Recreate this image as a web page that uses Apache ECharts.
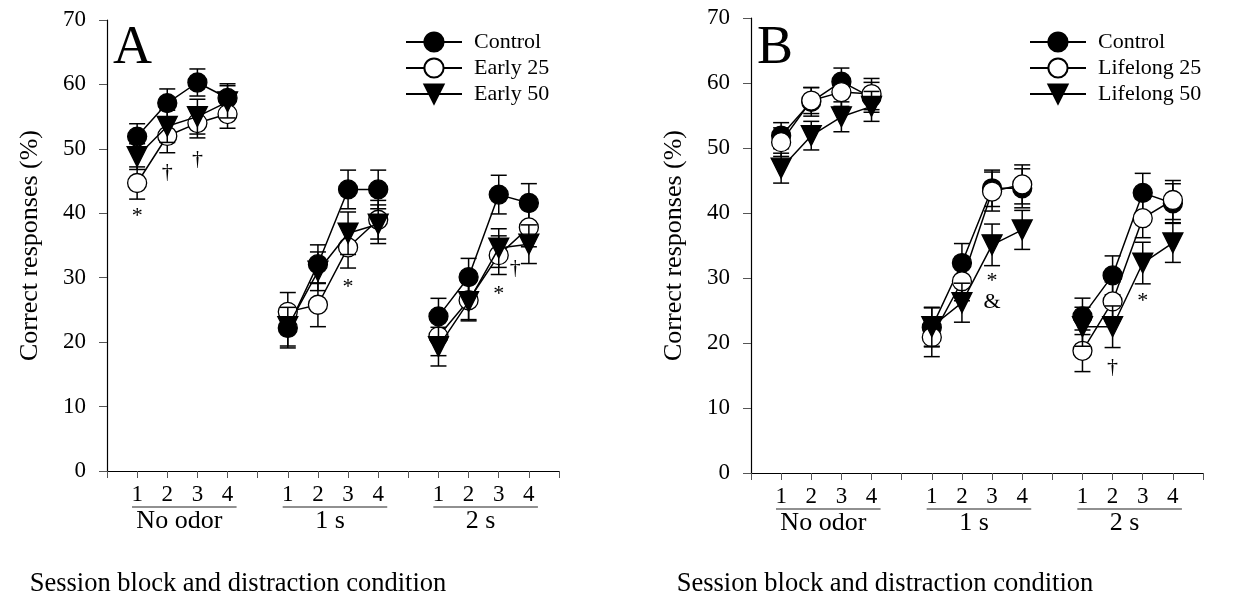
<!DOCTYPE html>
<html>
<head>
<meta charset="utf-8">
<script src="https://cdn.jsdelivr.net/npm/echarts@6/dist/echarts.min.js"></script>
<style>
  html, body { margin: 0; padding: 0; background: #fff; }
  #main { width: 1251px; height: 605px; }
</style>
</head>
<body>
<div id="main"></div>
<script>
// session blocks inside each distraction condition
var groups = ['No odor', '1 s', '2 s'];
var blocks = [1, 2, 3, 4];
var yTicks = [0, 10, 20, 30, 40, 50, 60, 70];

// panel A
var namesA = ['Control', 'Early 25', 'Early 50'];
var ctrlA = [51.9, 57.1, 60.3, 57.9, 22.2, 32.1, 43.7, 43.7, 24.0, 30.1, 42.9, 41.6];
var ctrlAErr = [2.0, 2.2, 2.1, 2.2, 3.1, 3.0, 3.0, 3.0, 2.8, 2.9, 3.0, 3.0];
var e25A = [44.7, 52.0, 54.0, 55.4, 24.7, 25.8, 34.7, 39.0, 20.9, 26.5, 33.5, 37.8];
var e25AErr = [2.5, 2.6, 2.3, 2.2, 3.0, 3.4, 3.2, 3.0, 3.0, 3.0, 3.0, 3.0];
var e50A = [48.8, 53.5, 55.0, 57.3, 22.4, 31.0, 36.9, 38.3, 19.3, 26.3, 34.6, 35.2];
var e50AErr = [2.0, 2.5, 2.7, 2.5, 3.0, 3.0, 3.3, 3.0, 3.0, 3.0, 3.0, 3.0];
var marksA = [[1, 39.6, '*'], [2, 46.3, '†'], [3, 48.4, '†'], [8, 28.5, '*'], [13, 27.5, '*'], [13.55, 31.5, '†']];

// panel B
var namesB = ['Control', 'Lifelong 25', 'Lifelong 50'];
var ctrlB = [51.9, 57.1, 60.2, 57.8, 22.4, 32.3, 43.8, 43.8, 24.1, 30.4, 43.1, 41.5];
var ctrlBErr = [2.0, 2.2, 2.1, 2.3, 3.0, 3.0, 2.8, 3.0, 2.8, 3.0, 3.0, 3.0];
var l25B = [50.9, 57.3, 58.6, 58.3, 20.9, 29.5, 43.3, 44.4, 18.8, 26.4, 39.2, 42.0];
var l25BErr = [2.2, 2.0, 2.2, 2.4, 3.0, 3.0, 3.0, 3.0, 3.2, 3.0, 3.0, 3.0];
var l50B = [46.9, 51.9, 54.8, 56.4, 22.5, 26.2, 35.1, 37.4, 22.5, 22.5, 32.3, 35.4];
var l50BErr = [2.3, 2.2, 2.3, 2.3, 3.0, 3.0, 3.2, 3.0, 3.0, 3.2, 3.2, 3.0];
var marksB = [[8, 29.5, '*'], [8, 26.3, '&'], [12, 16.3, '†'], [13, 26.5, '*']];

var serif = '"Liberation Serif", "Times New Roman", serif';

// x position of each point: 4 blocks per group, one empty slot between groups
var xPos = [];
groups.forEach(function (g, gi) {
  blocks.forEach(function (b) { xPos.push(gi * 5 + b); });
});

function lineData(vals) {
  var out = [];
  vals.forEach(function (v, i) {
    out.push([xPos[i], v]);
    if (i % 4 === 3 && i < vals.length - 1) out.push([xPos[i] + 1, null]);
  });
  return out;
}

function lineSeries(name, vals, ai, kind, z) {
  return {
    type: 'line', name: name, xAxisIndex: ai, yAxisIndex: ai,
    data: lineData(vals),
    symbol: kind === 'tri' ? 'triangle' : 'circle',
    symbolSize: kind === 'tri' ? 20 : 19,
    symbolRotate: kind === 'tri' ? 180 : 0,
    showAllSymbol: true, connectNulls: false,
    itemStyle: { color: kind === 'open' ? '#fff' : '#000', borderColor: '#000', borderWidth: 1.3, opacity: 1 },
    lineStyle: { color: '#000', width: 1.5 },
    z: z, animation: false
  };
}

function errSeries(vals, errs, ai, z) {
  return {
    type: 'custom', name: 'err', xAxisIndex: ai, yAxisIndex: ai,
    data: vals.map(function (v, i) { return [xPos[i], v - errs[i], v + errs[i]]; }),
    renderItem: function (params, api) {
      var lo = api.coord([api.value(0), api.value(1)]);
      var hi = api.coord([api.value(0), api.value(2)]);
      var w = 8, st = { stroke: '#000', lineWidth: 1.5 };
      return { type: 'group', children: [
        { type: 'line', shape: { x1: lo[0], y1: lo[1], x2: hi[0], y2: hi[1] }, style: st },
        { type: 'line', shape: { x1: lo[0] - w, y1: lo[1], x2: lo[0] + w, y2: lo[1] }, style: st },
        { type: 'line', shape: { x1: hi[0] - w, y1: hi[1], x2: hi[0] + w, y2: hi[1] }, style: st }
      ]};
    },
    z: z, silent: true, animation: false
  };
}

function markSeries(marks, ai) {
  return {
    type: 'custom', name: 'marks', xAxisIndex: ai, yAxisIndex: ai,
    data: marks,
    renderItem: function (params, api) {
      var p = api.coord([api.value(0), api.value(1)]);
      return { type: 'text', x: p[0], y: p[1],
        style: { text: marks[params.dataIndex][2], font: '22px ' + serif, fill: '#000', align: 'center', verticalAlign: 'middle' } };
    },
    z: 20, silent: true, animation: false
  };
}

// underline below block numbers + condition name
function groupSeries(ai) {
  return {
    type: 'custom', name: 'groups', xAxisIndex: ai, yAxisIndex: ai,
    data: groups.map(function (g, gi) { return [gi * 5 + 1, gi * 5 + 4]; }),
    renderItem: function (params, api) {
      var a = api.coord([api.value(0) - 0.17, 0]);
      var b = api.coord([api.value(1) + 0.3, 0]);
      var c = api.coord([(api.value(0) + api.value(1)) / 2, 0]);
      return { type: 'group', children: [
        { type: 'line', shape: { x1: a[0], y1: a[1] + 36, x2: b[0], y2: b[1] + 36 }, style: { stroke: '#222', lineWidth: 1.2 } },
        { type: 'text', x: c[0] - 3, y: c[1] + 37,
          style: { text: groups[params.dataIndex], font: '26px ' + serif, fill: '#000', align: 'center', verticalAlign: 'top' } }
      ]};
    },
    z: 5, silent: true, animation: false
  };
}

function xAxisOpt(ai) {
  return {
    type: 'value', gridIndex: ai, min: 0, max: 15, interval: 1,
    axisLine: { lineStyle: { color: '#000', width: 1.2 } },
    axisTick: { length: 7, lineStyle: { color: '#555' } },
    splitLine: { show: false },
    axisLabel: {
      margin: 12, color: '#000', fontFamily: serif, fontSize: 23,
      formatter: function (v) { return v % 5 === 0 ? '' : String(blocks[v % 5 - 1]); }
    }
  };
}

function yAxisOpt(ai) {
  return {
    type: 'value', gridIndex: ai, min: yTicks[0], max: yTicks[yTicks.length - 1], interval: 10,
    name: 'Correct responses (%)', nameLocation: 'middle', nameGap: 64, nameRotate: 90,
    nameTextStyle: { color: '#000', fontFamily: serif, fontSize: 26 },
    axisLine: { show: true, lineStyle: { color: '#000', width: 1.2 } },
    axisTick: { show: true, length: 8, lineStyle: { color: '#555' } },
    splitLine: { show: false },
    axisLabel: { margin: 21, color: '#000', fontFamily: serif, fontSize: 23 }
  };
}

function legendOpt(names, left) {
  return {
    data: names, orient: 'vertical', left: left, top: 31, padding: 0,
    itemWidth: 56, itemHeight: 24, itemGap: 4,
    textStyle: { color: '#000', fontFamily: serif, fontSize: 22, padding: [0, 0, 0, 7] },
    selectedMode: false
  };
}

var myChart = echarts.init(document.getElementById('main'));

var option = {
  backgroundColor: '#fff',
  animation: false,
  grid: [
    { left: 107, right: 692, top: 20, bottom: 134 },
    { left: 751, right: 48, top: 18, bottom: 132 }
  ],
  xAxis: [xAxisOpt(0), xAxisOpt(1)],
  yAxis: [yAxisOpt(0), yAxisOpt(1)],
  legend: [legendOpt(namesA, 405), legendOpt(namesB, 1029)],
  graphic: [
    { type: 'text', left: 113, top: 22, style: { text: 'A', font: '54px ' + serif, fill: '#000' } },
    { type: 'text', left: 757, top: 22, style: { text: 'B', font: '54px ' + serif, fill: '#000' } },
    { type: 'text', x: 238, y: 571, style: { text: 'Session block and distraction condition', font: '26.5px ' + serif, fill: '#000', align: 'center' } },
    { type: 'text', x: 885, y: 571, style: { text: 'Session block and distraction condition', font: '26.5px ' + serif, fill: '#000', align: 'center' } }
  ],
  series: [
    errSeries(ctrlA, ctrlAErr, 0, 2), lineSeries(namesA[0], ctrlA, 0, 'fill', 3),
    errSeries(e25A, e25AErr, 0, 4), lineSeries(namesA[1], e25A, 0, 'open', 5),
    errSeries(e50A, e50AErr, 0, 6), lineSeries(namesA[2], e50A, 0, 'tri', 7),
    markSeries(marksA, 0), groupSeries(0),
    errSeries(ctrlB, ctrlBErr, 1, 2), lineSeries(namesB[0], ctrlB, 1, 'fill', 3),
    errSeries(l25B, l25BErr, 1, 4), lineSeries(namesB[1], l25B, 1, 'open', 5),
    errSeries(l50B, l50BErr, 1, 6), lineSeries(namesB[2], l50B, 1, 'tri', 7),
    markSeries(marksB, 1), groupSeries(1)
  ]
};

myChart.setOption(option);
</script>
</body>
</html>
